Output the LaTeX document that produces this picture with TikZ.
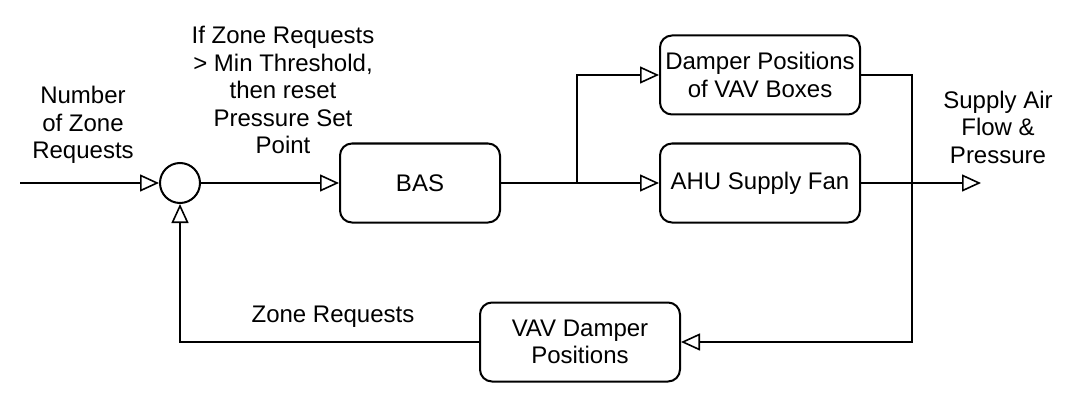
\documentclass[tikz,border=0pt]{standalone}
\usepackage{fontspec}
\setmainfont{Liberation Sans}
\usetikzlibrary{arrows.meta}

\begin{document}
\begin{tikzpicture}[
		x=1pt, y=-1pt, line width=2pt,
		font=\fontsize{24}{27.5}\selectfont,
		block/.style={
			rectangle, rounded corners=12pt, draw=black, fill=white,
			minimum height=79pt, align=center
		},
		flow/.style={-{Triangle[open, length=19pt, width=17pt, line width=1.6pt]}},
		label/.style={align=center, inner sep=0pt}
	]
		\useasboundingbox (0,0) rectangle (1065,401);

		\node[circle, draw=black, minimum size=40pt, inner sep=0pt] (sum) at (180,183) {};

		\node[block, minimum width=160pt] (bas) at (420,183) {BAS};
		\node[block, minimum width=200pt] (damper) at (760,75) {Damper Positions\\of VAV Boxes};
		\node[block, minimum width=200pt] (ahu) at (760,183) {AHU Supply Fan};
		\node[block, minimum width=200pt] (vav) at (580,342) {VAV Damper\\Positions};

		\node[label] (reqin) at (83,125) {Number\\of Zone\\Requests};
		\node[label] (rule) at (283,90) {If Zone Requests\\> Min Threshold,\\then reset\\Pressure Set\\Point};
		\node[label] (supply) at (998,127) {Supply Air\\Flow \&\\Pressure};
		\node[label] (zonereq) at (333,317) {Zone Requests};

		\coordinate (start) at (20,183);
		\coordinate (split) at (577,183);
		\coordinate (outlet) at (981,183);
		\coordinate (corner) at (912,342);

		\draw[flow] (start) -- (sum.west);
		\draw[flow] (sum.east) -- (bas.west);
		\draw[flow] (bas.east) -- (ahu.west);
		\draw[flow] (split) |- (damper.west);
		\draw[flow] (ahu.east) -- (outlet);
		\draw[flow] (damper.east) -| (corner) -- (vav.east);
		\draw[flow] (vav.west) -| (sum.south);
	\end{tikzpicture}
\end{document}
